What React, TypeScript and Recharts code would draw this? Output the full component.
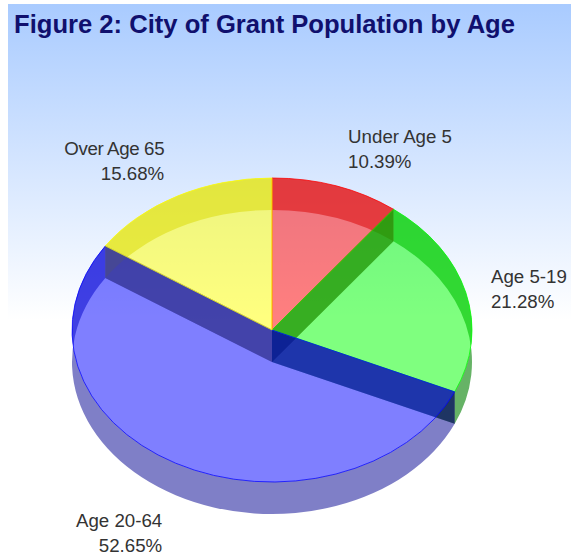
import { PieChart, Pie } from "recharts";

const categories = ["Under Age 5", "Age 5-19", "Age 20-64", "Over Age 65"];
const percents = [10.39, 21.28, 52.65, 15.68];
const faceColors = ["#ff0000", "#00ff00", "#0000ff", "#ffff00"];
// fill and opacity of the outer rim and the two cut walls of each slice
const rimColors = ["#b00000", "#008000", "#000090", "#b1b100"];
const rimOpacity = [0.5, 0.6, 0.5, 0.5];
const startWallColors = ["#800000", "#003200", "#000040", "#808000"];
const startWallOpacity = [0.5, 0.45, 0.4, 0.5];
const endWallColors = ["#960000", "#008000", "#000040", "#808000"];
const endWallOpacity = [0.5, 0.6, 0.45, 0.5];
// small nudges to the label spot, px
const labelNudgeX = [3, -2, 0, 0];
const labelNudgeY = [-4, 1, 3, -3];
const labelSpacing = [0, 0, 0, -0.36];

const data = categories.map((name, i) => ({ name, value: percents[i] }));

const W = 571;
const H = 557;
const SQUASH = 0.76; // ellipse ratio of the tilted pie
const DEPTH = 32;
const RAD = Math.PI / 180;

function pt(cx: number, cy: number, r: number, a: number, dy = 0) {
  return [cx + r * Math.cos(a * RAD), cy - r * SQUASH * Math.sin(a * RAD) + dy];
}

function arc(cx: number, cy: number, r: number, a1: number, a2: number, dy = 0) {
  const [x, y] = pt(cx, cy, r, a2, dy);
  const large = Math.abs(a1 - a2) > 180 ? 1 : 0;
  const sweep = a2 < a1 ? 1 : 0;
  return `A${r} ${r * SQUASH} 0 ${large} ${sweep} ${x} ${y}`;
}

function FaceShape(props: any) {
  const { cx, cy, outerRadius: r, startAngle: a1, endAngle: a2, index } = props;
  const [x1, y1] = pt(cx, cy, r, a1);
  const d = `M${cx} ${cy}L${x1} ${y1}${arc(cx, cy, r, a1, a2)}Z`;
  const c = faceColors[index];
  return <path d={d} fill={c} fillOpacity={0.5} stroke={c} strokeOpacity={0.75} strokeWidth={1} />;
}

function WallShape(props: any) {
  const { cx, cy, outerRadius: r, startAngle: a1, endAngle: a2, index } = props;
  const [x1, y1] = pt(cx, cy, r, a1);
  const [x2, y2] = pt(cx, cy, r, a2);
  const rim = `M${x1} ${y1}${arc(cx, cy, r, a1, a2)}L${x2} ${y2 + DEPTH}${arc(cx, cy, r, a2, a1, DEPTH)}Z`;
  const side1 = `M${cx} ${cy}L${x1} ${y1}L${x1} ${y1 + DEPTH}L${cx} ${cy + DEPTH}Z`;
  const side2 = `M${cx} ${cy}L${x2} ${y2}L${x2} ${y2 + DEPTH}L${cx} ${cy + DEPTH}Z`;
  return (
    <g>
      <path d={rim} fill={rimColors[index]} fillOpacity={rimOpacity[index]} />
      <path d={side1} fill={startWallColors[index]} fillOpacity={startWallOpacity[index]} />
      <path d={side2} fill={endWallColors[index]} fillOpacity={endWallOpacity[index]} />
    </g>
  );
}

function SliceLabel(props: any) {
  const { cx, cy, midAngle, index } = props;
  const s = Math.sin(midAngle * RAD);
  const c = Math.cos(midAngle * RAD);
  const x = cx + 228 * c + labelNudgeX[index];
  let y = cy - 168 * s + labelNudgeY[index];
  if (s < 0) y += DEPTH;
  // first line baseline: above the pie, beside it or below it
  const base = s > 0.6 ? y - 24 : s < -0.6 ? y + 15 : y - 7;
  const anchor = c >= 0 ? "start" : "end";
  return (
    <text x={x} y={base} textAnchor={anchor} fontFamily="Liberation Sans" fontSize={18.7} fill="#333333">
      <tspan x={x} letterSpacing={labelSpacing[index]}>{categories[index]}</tspan>
      <tspan x={x} dy={25}>{percents[index].toFixed(2)}%</tspan>
    </text>
  );
}

export default function App() {
  return (
    <div style={{ position: "absolute", left: 0, top: 0, width: W, height: H, background: "#fff", overflow: "hidden" }}>
      <div
        style={{
          position: "absolute",
          left: 8,
          top: 4,
          width: W - 8,
          height: 316,
          background: "linear-gradient(#a9cbff, #ffffff)",
        }}
      />
      <div
        style={{
          position: "absolute",
          left: 14,
          top: 10,
          fontFamily: "Liberation Sans",
          fontWeight: "bold",
          fontSize: 25.6,
          color: "#10106e",
          whiteSpace: "nowrap",
        }}
      >
        Figure 2: City of Grant Population by Age
      </div>
      <div style={{ position: "absolute", left: 0, top: 0 }}>
        <PieChart width={W} height={H} margin={{ top: 0, right: 0, bottom: 0, left: 0 }}>
          <Pie
            data={data}
            dataKey="value"
            cx={272}
            cy={330}
            outerRadius={200}
            startAngle={90}
            endAngle={-270}
            shape={WallShape}
            isAnimationActive={false}
          />
          <Pie
            data={data}
            dataKey="value"
            cx={272}
            cy={330}
            outerRadius={200}
            startAngle={90}
            endAngle={-270}
            shape={FaceShape}
            label={SliceLabel}
            labelLine={false}
            isAnimationActive={false}
          />
        </PieChart>
      </div>
    </div>
  );
}
